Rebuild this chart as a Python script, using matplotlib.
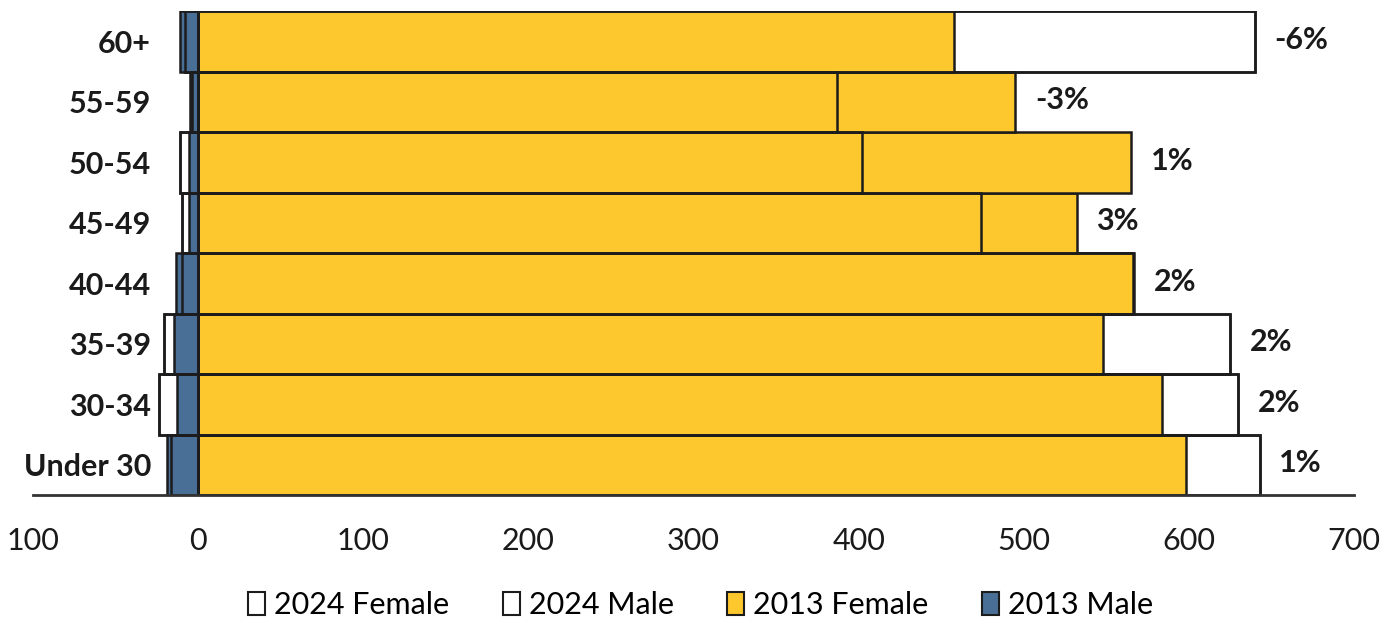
import matplotlib
matplotlib.use("Agg")
import matplotlib.pyplot as plt
from matplotlib.patches import Patch

# Data (bottom to top)
categories = ["Under 30", "30-34", "35-39", "40-44", "45-49", "50-54", "55-59", "60+"]
female_2024 = [643, 630, 625, 566, 474, 402, 387, 640]
male_2024 = [16.5, 23.5, 20.5, 9.5, 9.5, 11, 4, 8]
female_2013 = [598, 584, 548, 567, 532, 565, 495, 458]
male_2013 = [19, 12.5, 14.5, 13.5, 5.5, 5.5, 5, 11]
pct_labels = ["1%", "2%", "2%", "2%", "3%", "1%", "-3%", "-6%"]
xticks = [-100, 0, 100, 200, 300, 400, 500, 600, 700]
xtick_labels = ["100", "0", "100", "200", "300", "400", "500", "600", "700"]

YELLOW = "#FDC72E"
BLUE = "#4A6F96"
EDGE = "#1c1c1c"
LW = 1.8

plt.rcParams['font.family'] = ['Lato', 'DejaVu Sans']

fig = plt.figure(figsize=(13.96, 6.22), dpi=100)
ax = fig.add_axes([33/1396, 1 - 495/622, (1354 - 33)/1396, (495 - 11)/622])

y = list(range(len(categories)))
neg_m24 = [-v for v in male_2024]
neg_m13 = [-v for v in male_2013]

# white-filled 2024 bars underneath
ax.barh(y, female_2024, height=1.0, color="white", edgecolor=EDGE, linewidth=LW, zorder=1)
ax.barh(y, neg_m24, height=1.0, color="white", edgecolor=EDGE, linewidth=LW, zorder=1)
# 2013 bars
ax.barh(y, female_2013, height=1.0, color=YELLOW, edgecolor=EDGE, linewidth=LW, zorder=2)
ax.barh(y, neg_m13, height=1.0, color=BLUE, edgecolor=EDGE, linewidth=LW, zorder=2)
# 2024 outlines on top
ax.barh(y, female_2024, height=1.0, fill=False, edgecolor=EDGE, linewidth=LW, zorder=3)
ax.barh(y, neg_m24, height=1.0, fill=False, edgecolor=EDGE, linewidth=LW, zorder=3)

for yi, f13, f24, lab in zip(y, female_2013, female_2024, pct_labels):
    ax.annotate(lab, xy=(max(f13, f24), yi), xytext=(14, 1), textcoords="offset points",
                ha="left", va="center", fontsize=22, fontweight="bold", color="#1a1a1a")

ax.set_xlim(-100, 700)
ax.set_ylim(-0.5, len(categories) - 0.5)
ax.set_xticks(xticks)
ax.set_xticklabels(xtick_labels, fontsize=22, color="#1a1a1a")
ax.set_yticks(y)
ax.set_yticklabels(categories, fontsize=22, fontweight="bold", color="#1a1a1a")
ax.tick_params(axis="x", length=0, pad=23)
ax.tick_params(axis="y", length=0, pad=-85)

for s in ["top", "right", "left"]:
    ax.spines[s].set_visible(False)
ax.spines["bottom"].set_color("#333333")
ax.spines["bottom"].set_linewidth(2)
ax.spines["bottom"].set_zorder(4)

handles = [
    Patch(facecolor="white", edgecolor=EDGE, linewidth=1.5, label="2024 Female"),
    Patch(facecolor="white", edgecolor=EDGE, linewidth=1.5, label="2024 Male"),
    Patch(facecolor=YELLOW, edgecolor=EDGE, linewidth=1.5, label="2013 Female"),
    Patch(facecolor=BLUE, edgecolor=EDGE, linewidth=1.5, label="2013 Male"),
]
fig.legend(handles=handles, loc="center", bbox_to_anchor=(0.502, 1 - 605/622), ncol=4,
           frameon=False, fontsize=22, handlelength=0.55, handleheight=0.8,
           handletextpad=0.3, columnspacing=1.75)

fig.savefig("out.png", dpi=100)
